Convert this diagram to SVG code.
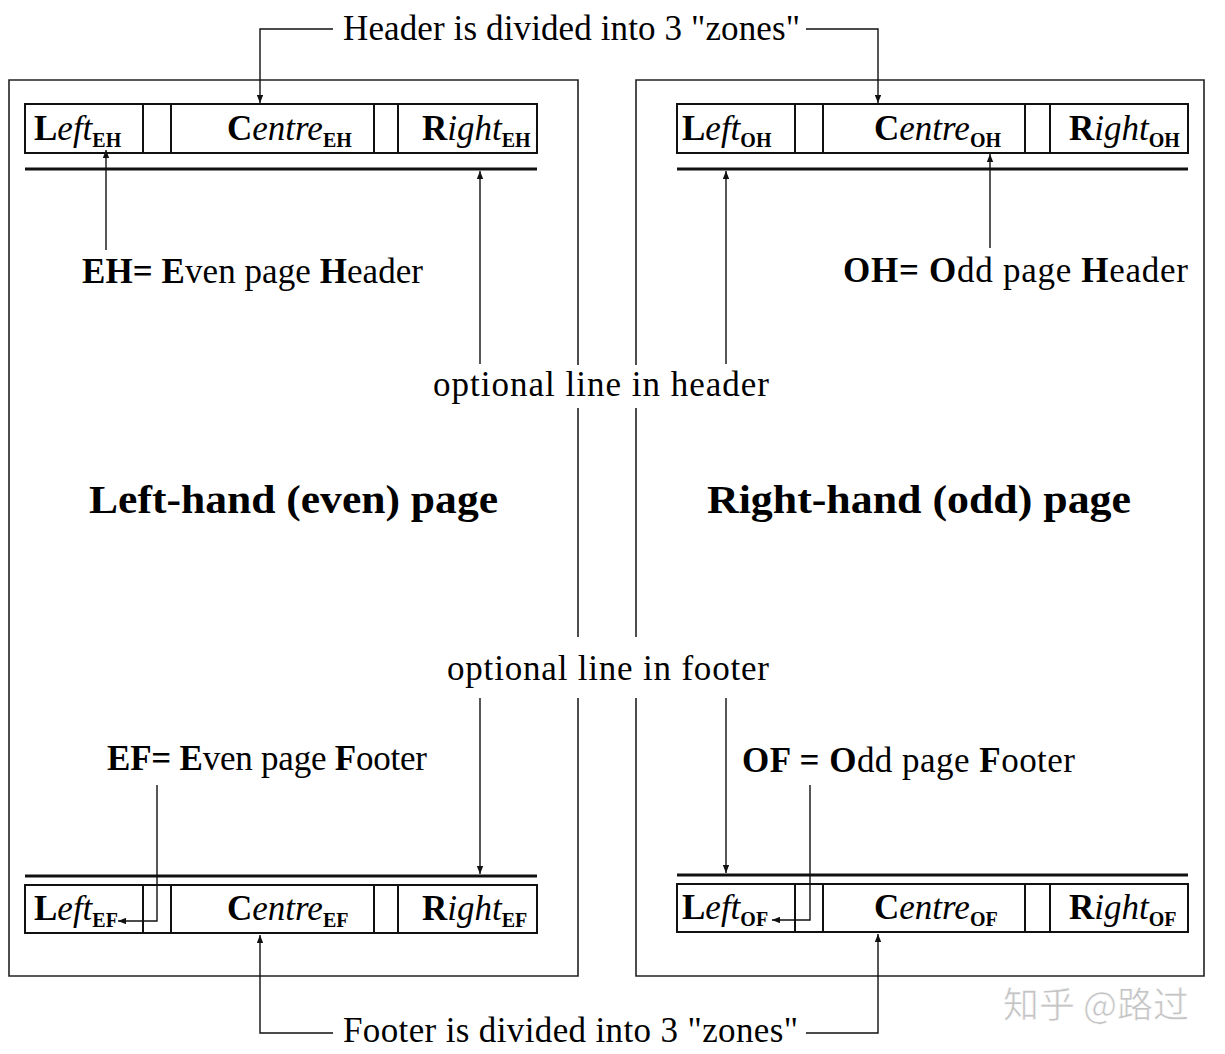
<svg xmlns="http://www.w3.org/2000/svg" width="1225" height="1054" viewBox="0 0 1225 1054">
<style>
text{font-family:"Liberation Serif","DejaVu Serif",serif;fill:#000}
.lbl{font-size:35px}
.zone{font-size:35px}
.sub{font-size:20px;font-weight:bold}
.b{font-weight:bold}
.i{font-style:italic}
.title{font-size:40px;font-weight:bold}
.frame{fill:none;stroke:#222;stroke-width:1.6}
.box{fill:none;stroke:#111;stroke-width:2}
.rule{stroke:#111;stroke-width:3}
.conn{fill:none;stroke:#111;stroke-width:1.4}
.wm{font-family:"Noto Sans CJK SC",sans-serif;font-size:36px;fill:#c4c4c4;stroke:#fff;stroke-width:0.6}
</style>
<defs>
<marker id="ah" viewBox="0 0 10 8" refX="10" refY="4" markerWidth="8" markerHeight="6.4" markerUnits="userSpaceOnUse" orient="auto">
<path d="M0,0 L10,4 L0,8 z" fill="#111"/>
</marker>
</defs>
<rect width="1225" height="1054" fill="#fff"/>

<g id="left-page">
<path class="frame" d="M578,365 V80 H9 V976 H578 V698 M578,408 V637"/>
<text class="title" x="89" y="513" textLength="409" lengthAdjust="spacingAndGlyphs">Left-hand (even) page</text>
</g>
<g id="right-page">
<path class="frame" d="M636,365 V80 H1204 V976 H636 V698 M636,408 V637"/>
<text class="title" x="707" y="513" textLength="424" lengthAdjust="spacingAndGlyphs">Right-hand (odd) page</text>
</g>

<g id="even-header">
<rect class="box" x="25" y="104" width="512" height="49"/>
<line class="box" x1="143" y1="104" x2="143" y2="153"/>
<line class="box" x1="171" y1="104" x2="171" y2="153"/>
<line class="box" x1="374" y1="104" x2="374" y2="153"/>
<line class="box" x1="398" y1="104" x2="398" y2="153"/>
<line class="rule" x1="25" y1="169" x2="537" y2="169"/>
<text class="lbl" x="34" y="140"><tspan class="b">L</tspan><tspan class="i">eft</tspan><tspan class="sub" dy="7">EH</tspan></text>
<text class="lbl" x="227" y="140"><tspan class="b">C</tspan><tspan class="i">entre</tspan><tspan class="sub" dy="7">EH</tspan></text>
<text class="lbl" x="422" y="140"><tspan class="b">R</tspan><tspan class="i">ight</tspan><tspan class="sub" dy="7">EH</tspan></text>
</g>

<g id="odd-header">
<rect class="box" x="677" y="104" width="511" height="49"/>
<line class="box" x1="795" y1="104" x2="795" y2="153"/>
<line class="box" x1="823" y1="104" x2="823" y2="153"/>
<line class="box" x1="1025" y1="104" x2="1025" y2="153"/>
<line class="box" x1="1050" y1="104" x2="1050" y2="153"/>
<line class="rule" x1="677" y1="169" x2="1188" y2="169"/>
<text class="lbl" x="682" y="140"><tspan class="b">L</tspan><tspan class="i">eft</tspan><tspan class="sub" dy="7">OH</tspan></text>
<text class="lbl" x="874" y="140"><tspan class="b">C</tspan><tspan class="i">entre</tspan><tspan class="sub" dy="7">OH</tspan></text>
<text class="lbl" x="1069" y="140"><tspan class="b">R</tspan><tspan class="i">ight</tspan><tspan class="sub" dy="7">OH</tspan></text>
</g>

<g id="even-footer">
<line class="rule" x1="25" y1="876" x2="537" y2="876"/>
<rect class="box" x="25" y="885" width="512" height="48"/>
<line class="box" x1="143" y1="885" x2="143" y2="933"/>
<line class="box" x1="171" y1="885" x2="171" y2="933"/>
<line class="box" x1="374" y1="885" x2="374" y2="933"/>
<line class="box" x1="398" y1="885" x2="398" y2="933"/>
<text class="lbl" x="34" y="920"><tspan class="b">L</tspan><tspan class="i">eft</tspan><tspan class="sub" dy="7">EF</tspan></text>
<text class="lbl" x="227" y="920"><tspan class="b">C</tspan><tspan class="i">entre</tspan><tspan class="sub" dy="7">EF</tspan></text>
<text class="lbl" x="422" y="920"><tspan class="b">R</tspan><tspan class="i">ight</tspan><tspan class="sub" dy="7">EF</tspan></text>
</g>

<g id="odd-footer">
<line class="rule" x1="677" y1="875" x2="1188" y2="875"/>
<rect class="box" x="677" y="884" width="511" height="48"/>
<line class="box" x1="795" y1="884" x2="795" y2="932"/>
<line class="box" x1="823" y1="884" x2="823" y2="932"/>
<line class="box" x1="1025" y1="884" x2="1025" y2="932"/>
<line class="box" x1="1050" y1="884" x2="1050" y2="932"/>
<text class="lbl" x="682" y="919"><tspan class="b">L</tspan><tspan class="i">eft</tspan><tspan class="sub" dy="7">OF</tspan></text>
<text class="lbl" x="874" y="919"><tspan class="b">C</tspan><tspan class="i">entre</tspan><tspan class="sub" dy="7">OF</tspan></text>
<text class="lbl" x="1069" y="919"><tspan class="b">R</tspan><tspan class="i">ight</tspan><tspan class="sub" dy="7">OF</tspan></text>
</g>

<g id="labels">
<text class="zone" x="343" y="40" textLength="457">Header is divided into 3 "zones"</text>
<text class="zone" x="343" y="1042" textLength="455">Footer is divided into 3 "zones"</text>
<text class="zone" x="433" y="396" textLength="336">optional line in header</text>
<text class="zone" x="447" y="680" textLength="322">optional line in footer</text>
<text class="zone" x="82" y="283" textLength="341"><tspan class="b">EH= E</tspan>ven page <tspan class="b">H</tspan>eader</text>
<text class="zone" x="843" y="282" textLength="345"><tspan class="b">OH= O</tspan>dd page <tspan class="b">H</tspan>eader</text>
<text class="zone" x="107" y="770" textLength="320"><tspan class="b">EF= E</tspan>ven page <tspan class="b">F</tspan>ooter</text>
<text class="zone" x="742" y="772" textLength="333"><tspan class="b">OF = O</tspan>dd page <tspan class="b">F</tspan>ooter</text>
</g>

<g id="connectors">
<path class="conn" d="M333,29 H260 V103" marker-end="url(#ah)"/>
<path class="conn" d="M806,29 H878 V103" marker-end="url(#ah)"/>
<path class="conn" d="M333,1033 H260 V935" marker-end="url(#ah)"/>
<path class="conn" d="M806,1033 H878 V934" marker-end="url(#ah)"/>
<path class="conn" d="M106,250 V150" marker-end="url(#ah)"/>
<path class="conn" d="M990,248 V154" marker-end="url(#ah)"/>
<path class="conn" d="M480,364 V171" marker-end="url(#ah)"/>
<path class="conn" d="M726,364 V171" marker-end="url(#ah)"/>
<path class="conn" d="M480,698 V874" marker-end="url(#ah)"/>
<path class="conn" d="M726,698 V873" marker-end="url(#ah)"/>
<path class="conn" d="M157,785 V921 H118" marker-end="url(#ah)"/>
<path class="conn" d="M810,785 V920 H772" marker-end="url(#ah)"/>
</g>

<text class="wm" x="1003" y="1018">知乎 @路过</text>
</svg>
